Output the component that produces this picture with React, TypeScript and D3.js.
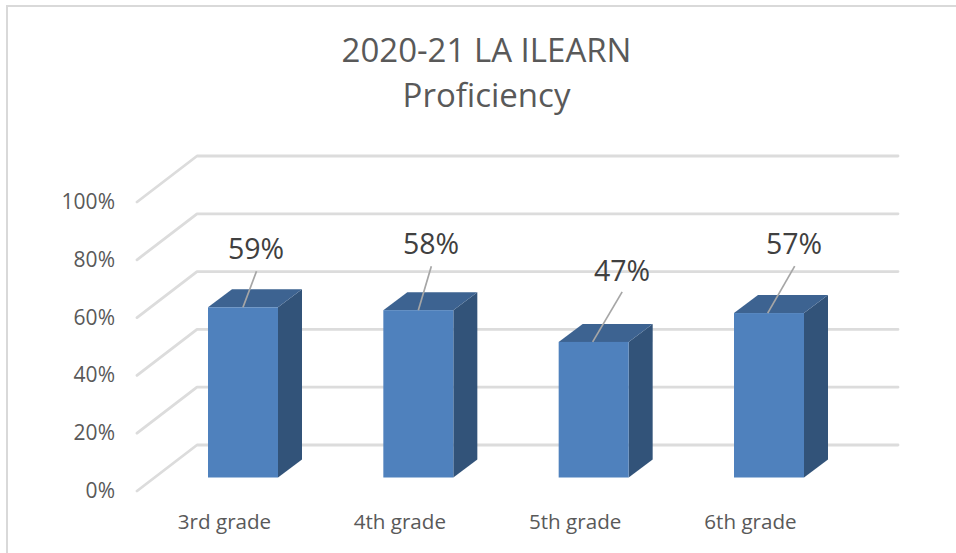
import React from "react";
import * as d3 from "d3";

const categories = ["3rd grade", "4th grade", "5th grade", "6th grade"];
const values = [59, 58, 47, 57];
const yTicks = [0, 20, 40, 60, 80, 100];
const titleLines = ["2020-21 LA ILEARN", "Proficiency"];
const leaderStarts = [35, 35, 34, 33.7];
const leaderTips = [[13.5, 36], [13, 44], [29.5, 50], [27, 47]];
const labelPos = [[256, 259], [431, 254], [622, 281], [794, 254]];
const labelFont = "'Open Sans', 'Noto Sans', sans-serif";

export default function App() {
  const y = d3.scaleLinear().domain([0, 100]).range([491, 202]);
  const x = d3.scalePoint<string>().domain(categories).range([208, 734]);
  const barW = 70;
  const dx = 24, dy = 18;
  const barBottom = 477.5;
  const barScale = d3.scaleLinear().domain([0, 100]).range([barBottom, barBottom - 288.5]);
  const pts = (p: number[][]) => p.map((q) => q.join(",")).join(" ");
  return (
    <svg width={956} height={553} style={{ position: "absolute", left: 0, top: 0, background: "#fff" }}>
      <path d="M7,553 V6 H956" fill="none" stroke="#d9d9d9" strokeWidth={2} />
      <g fontFamily={labelFont} fill="#595959" textAnchor="middle" fontSize={33}>
        {titleLines.map((t, i) => (
          <text key={t} x={486.5} y={62 + i * 45}>{t}</text>
        ))}
      </g>
      {yTicks.map((t) => (
        <g key={t}>
          <polyline
            points={pts([[137, y(t)], [197, y(t) - 46], [898, y(t) - 46]])}
            fill="none"
            stroke="#dcdcdc"
            strokeWidth={2.8}
            strokeLinecap="round"
            strokeLinejoin="round"
          />
          <text x={115} y={y(t) + 7} textAnchor="end" fontFamily={labelFont} fontSize={21} fill="#595959">
            {t}%
          </text>
        </g>
      ))}
      {categories.map((c, i) => {
        const x0 = x(c)!;
        const x1 = x0 + barW;
        const top = barScale(values[i]);
        const lx = x0 + leaderStarts[i];
        return (
          <g key={c}>
            <polygon points={pts([[x1, top], [x1 + dx, top - dy], [x1 + dx, barBottom - dy], [x1, barBottom]])} fill="#325379" />
            <polygon points={pts([[x0, top], [x0 + dx, top - dy], [x1 + dx, top - dy], [x1, top]])} fill="#3d6391" />
            <rect x={x0} y={top} width={barW} height={barBottom - top} fill="#4f81bd" />
            <line
              x1={lx}
              y1={top}
              x2={lx + leaderTips[i][0]}
              y2={top - leaderTips[i][1]}
              stroke="#a6a6a6"
              strokeWidth={1.7}
            />
            <text x={labelPos[i][0]} y={labelPos[i][1]} textAnchor="middle" fontFamily={labelFont} fontSize={28.5} fill="#404040">
              {values[i]}%
            </text>
            <text x={x0 + 16.5} y={529} textAnchor="middle" fontFamily={labelFont} fontSize={20.6} fill="#595959">
              {c}
            </text>
          </g>
        );
      })}
    </svg>
  );
}
